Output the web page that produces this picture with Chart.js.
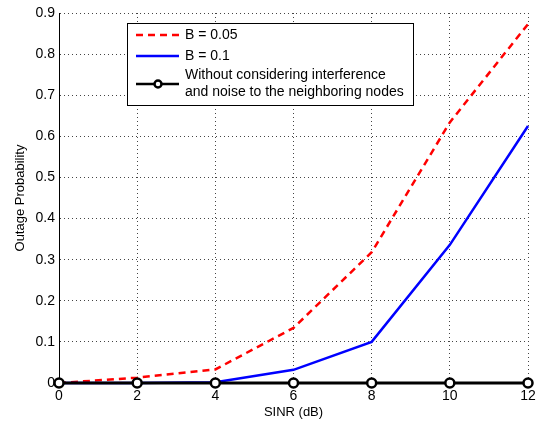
<!DOCTYPE html>
<html>
<head>
<meta charset="utf-8">
<script src="https://cdn.jsdelivr.net/npm/chart.js@4/dist/chart.umd.min.js"></script>
<style>
  html, body { margin: 0; padding: 0; background: #fff; }
  #wrap { width: 538px; height: 421px; }
</style>
</head>
<body>
<div id="wrap"><canvas id="outage-chart" width="538" height="421"></canvas></div>
<script>
// SINR values (dB) on the x axis
const sinrLabels = [0, 2, 4, 6, 8, 10, 12];
// Outage probability for each curve
const outageB005 = [0, 0.013, 0.033, 0.134, 0.318, 0.634, 0.873];
const outageB01 = [0, 0, 0.002, 0.032, 0.1, 0.336, 0.625];
const outageNoInterf = [0, 0, 0, 0, 0, 0, 0];
const yTicks = [0, 0.1, 0.2, 0.3, 0.4, 0.5, 0.6, 0.7, 0.8, 0.9];

const legendItems = [
    { lines: ['B = 0.05'], color: '#ff0000', dash: [7, 5], marker: false },
    { lines: ['B = 0.1'], color: '#0000ff', dash: [], marker: false },
    { lines: ['Without considering interference', 'and noise to the neighboring nodes'], color: '#000000', dash: [], marker: true }
];

const FONT = '"Liberation Sans", Arial, Helvetica, sans-serif';

function toPoints(values) {
    return sinrLabels.map((x, i) => ({ x: x, y: values[i] }));
}

// Draw the matlab-like legend box inside the plot area
const boxLegend = {
    id: 'boxLegend',
    afterDraw(chart) {
        const ctx = chart.ctx;
        const left = 127, top = 23, width = 286, height = 82;
        ctx.save();
        ctx.fillStyle = '#fff';
        ctx.fillRect(left, top, width, height);
        ctx.strokeStyle = '#000';
        ctx.lineWidth = 1;
        ctx.strokeRect(left + 0.5, top + 0.5, width, height);
        ctx.font = '14px ' + FONT;
        ctx.textBaseline = 'middle';
        const rowY = [35, 56, 84];
        legendItems.forEach((item, i) => {
            const y = rowY[i];
            ctx.strokeStyle = item.color;
            ctx.lineWidth = 2.5;
            ctx.setLineDash(item.dash);
            ctx.beginPath();
            ctx.moveTo(136, y);
            ctx.lineTo(179, y);
            ctx.stroke();
            ctx.setLineDash([]);
            if (item.marker) {
                ctx.fillStyle = '#fff';
                ctx.beginPath();
                ctx.arc(158, y, 3.5, 0, Math.PI * 2);
                ctx.fill();
                ctx.stroke();
            }
            ctx.fillStyle = '#000';
            if (item.lines.length === 1) {
                ctx.fillText(item.lines[0], 185, y);
            } else {
                ctx.fillText(item.lines[0], 185, y - 8.5);
                ctx.fillText(item.lines[1], 185, y + 8.5);
            }
        });
        ctx.restore();
    }
};

const ctx = document.getElementById('outage-chart').getContext('2d');
const outageChart = new Chart(ctx, {
    type: 'line',
    data: {
        datasets: [{
            label: 'B = 0.05',
            data: toPoints(outageB005),
            borderColor: '#ff0000',
            borderWidth: 2.5,
            borderDash: [7, 5],
            pointRadius: 0,
            order: 3
        }, {
            label: 'B = 0.1',
            data: toPoints(outageB01),
            borderColor: '#0000ff',
            borderWidth: 2.5,
            pointRadius: 0,
            order: 2
        }, {
            label: 'Without considering interference and noise to the neighboring nodes',
            data: toPoints(outageNoInterf),
            borderColor: '#000000',
            borderWidth: 3,
            pointRadius: 4.5,
            pointBorderWidth: 2.5,
            pointBackgroundColor: '#ffffff',
            pointBorderColor: '#000000',
            order: 1
        }]
    },
    options: {
        responsive: false,
        animation: false,
        devicePixelRatio: 1,
        clip: false,
        layout: { padding: { top: 13, right: 10, left: 0, bottom: 0 } },
        plugins: {
            legend: { display: false },
            tooltip: { enabled: false }
        },
        scales: {
            x: {
                type: 'linear',
                min: 0,
                max: 12,
                afterBuildTicks: scale => {
                    scale.ticks = sinrLabels.map(v => ({ value: v }));
                },
                afterFit: scale => {
                    scale.height = 38;
                    scale.paddingLeft = 0;
                    scale.paddingRight = 0;
                },
                border: { display: true, color: '#000', width: 1, dash: [1, 3] },
                grid: {
                    color: '#444',
                    lineWidth: 1,
                    drawTicks: false
                },
                ticks: {
                    color: '#000',
                    font: { family: FONT, size: 14 },
                    padding: 5,
                    maxRotation: 0
                },
                title: {
                    display: true,
                    text: 'SINR (dB)',
                    color: '#000',
                    font: { family: FONT, size: 13 },
                    padding: { top: 0, bottom: 1 }
                }
            },
            y: {
                type: 'linear',
                min: 0,
                max: 0.9,
                afterBuildTicks: scale => {
                    scale.ticks = yTicks.map(v => ({ value: v }));
                },
                afterFit: scale => { scale.width = 59; },
                border: { display: true, color: '#000', width: 1, dash: [1, 3] },
                grid: {
                    color: '#444',
                    lineWidth: 1,
                    drawTicks: false
                },
                ticks: {
                    color: '#000',
                    font: { family: FONT, size: 14 },
                    padding: 4,
                    callback: v => v === 0 ? '0' : v.toFixed(1)
                },
                title: {
                    display: true,
                    text: 'Outage Probability',
                    color: '#000',
                    font: { family: FONT, size: 13 },
                    padding: { top: 13, bottom: 0 }
                }
            }
        }
    },
    plugins: [boxLegend]
});
</script>
</body>
</html>
